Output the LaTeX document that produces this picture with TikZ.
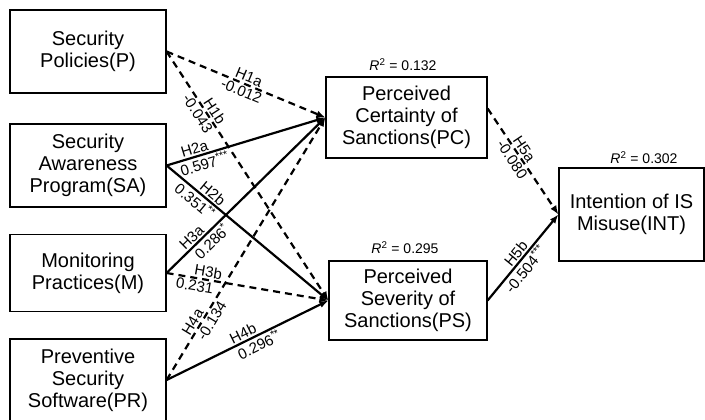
\documentclass[tikz,border=0pt]{standalone}
\usepackage{fontspec}
\setmainfont{Liberation Sans}
\usetikzlibrary{arrows.meta}
\begin{document}
\begin{tikzpicture}[x=1pt,y=-1pt,
  box/.style={draw, line width=1.2pt, inner sep=0pt, align=center, font=\fontsize{20}{22}\selectfont},
  lab/.style={font=\fontsize{15}{16}\selectfont, sloped, inner sep=1.5pt},
  rlab/.style={font=\fontsize{14}{15}\selectfont, inner sep=0pt},
  conn/.style={line width=2.2pt, -{Latex[length=9pt,width=7pt]}},
  dconn/.style={conn, dash pattern=on 7pt off 5pt},
]
\fill[white] (0,0) rectangle (705,420);
\useasboundingbox (0,0) rectangle (705,420);
% left column
\node[box, minimum width=156pt, minimum height=83pt] (P) at (88,51.5) {Security\\Policies(P)};
\node[box, minimum width=156pt, minimum height=83pt] (SA) at (88,165.5) {Security\\Awareness\\Program(SA)};
\node[box, minimum width=156pt, minimum height=77pt] (M) at (88,273) {Monitoring\\Practices(M)};
\node[box, minimum width=156pt, minimum height=82pt] (PR) at (88,380) {Preventive\\Security\\Software(PR)};
% middle column
\node[box, minimum width=161pt, minimum height=81pt] (PC) at (406.5,117.5) {Perceived\\Certainty of\\Sanctions(PC)};
\node[box, minimum width=158pt, minimum height=79pt] (PS) at (408,300.5) {Perceived\\Severity of\\Sanctions(PS)};
% right
\node[box, minimum width=145pt, minimum height=93pt] (INT) at (631.5,214.5) {Intention of IS\\Misuse(INT)};
% R^2 labels
\node[rlab] (r1) at (403,65) {\textit{R}\textsuperscript{2} = 0.132};
\node[rlab] (r2) at (405,248) {\textit{R}\textsuperscript{2} = 0.295};
\node[rlab] (r3) at (644,158) {\textit{R}\textsuperscript{2} = 0.302};
\coordinate (PCo) at ([yshift=9pt]PC.east);
% connectors
\draw[dconn] (P.east) -- node[lab, above, pos=0.5]{H1a} node[lab, below, pos=0.49]{-0.012} (PC.west);
\draw[dconn] (P.east) -- node[lab, above, pos=0.256]{H1b} node[lab, below, pos=0.233]{-0.043} (PS.west);
\draw[conn] (SA.east) -- node[lab, above, pos=0.19]{H2a} node[lab, below, pos=0.223]{0.597\textsuperscript{***}} (PC.west);
\draw[conn] (SA.east) -- node[lab, above, pos=0.254]{H2b} node[lab, below, pos=0.211]{0.351\textsuperscript{**}} (PS.west);
\draw[conn] (M.east) -- node[lab, above, pos=0.192]{H3a} node[lab, below, pos=0.244]{0.286\textsuperscript{*}} (PC.west);
\draw[dconn] (M.east) -- node[lab, above, pos=0.25]{H3b} node[lab, below, pos=0.182]{0.231} (PS.west);
\draw[dconn] (PR.east) -- node[lab, above, pos=0.206]{H4a} node[lab, below, pos=0.242]{-0.134} (PC.west);
\draw[conn] (PR.east) -- node[lab, above, pos=0.493]{H4b} node[lab, below, pos=0.548]{0.296\textsuperscript{**}} (PS.west);
\draw[dconn] (PCo) -- node[lab, above, pos=0.424]{H5a} node[lab, below, pos=0.44]{-0.080} (INT.west);
\draw[conn] (PS.east) -- node[lab, above, pos=0.488]{H5b} node[lab, below, pos=0.434]{-0.504\textsuperscript{***}} (INT.west);
\end{tikzpicture}
\end{document}
